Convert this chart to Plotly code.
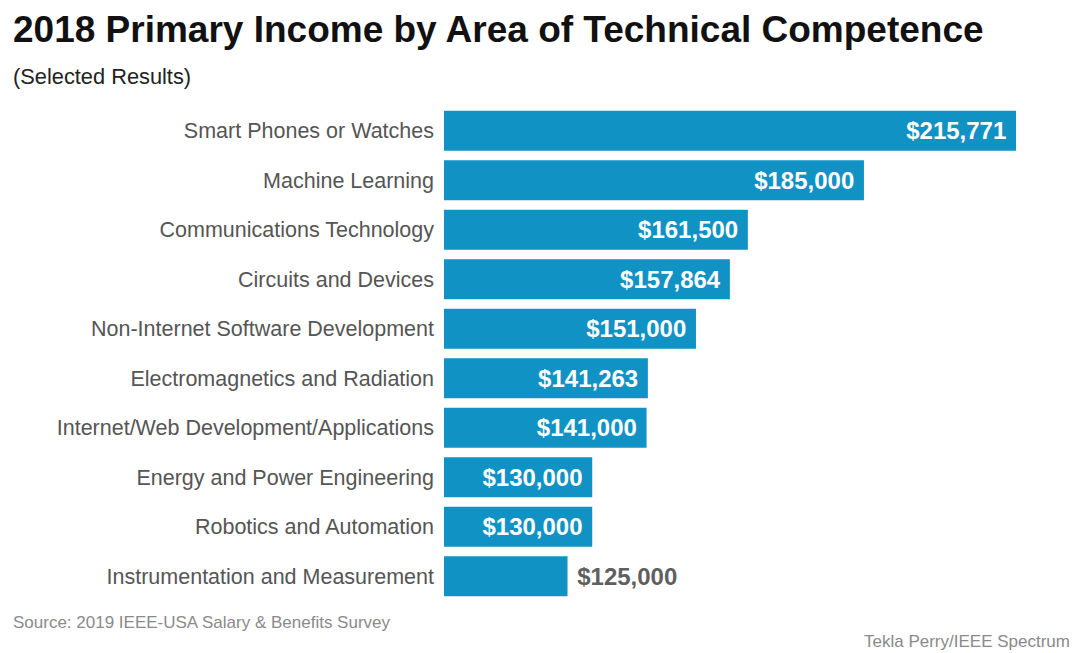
import plotly.graph_objects as go

categories = [
    "Smart Phones or Watches",
    "Machine Learning",
    "Communications Technology",
    "Circuits and Devices",
    "Non-Internet Software Development",
    "Electromagnetics and Radiation",
    "Internet/Web Development/Applications",
    "Energy and Power Engineering",
    "Robotics and Automation",
    "Instrumentation and Measurement",
]
values = [215771, 185000, 161500, 157864, 151000, 141263, 141000, 130000, 130000, 125000]

NB = "\u00a0"
labels = ["$" + format(v, ",") + NB for v in values[:-1]] + [NB + "$" + format(values[-1], ",")]

BAR = "#1192c4"
FONT = "Liberation Sans, Arial, sans-serif"

positions = ["inside"] * (len(values) - 1) + ["outside"]
text_colors = ["white"] * (len(values) - 1) + ["#5f5f5f"]

fig = go.Figure(go.Bar(
    y=categories,
    x=values,
    orientation="h",
    marker=dict(color=BAR, line=dict(width=0)),
    text=labels,
    textposition=positions,
    insidetextanchor="end",
    textfont=dict(family=FONT, size=24, color=text_colors, weight="bold"),
    insidetextfont=dict(family=FONT, size=24, color="white", weight="bold"),
    outsidetextfont=dict(family=FONT, size=24, color="#5f5f5f", weight="bold"),
    cliponaxis=False,
))

W, H = 1080, 653
l, r, t, b = 444, 53, 106, 52

fig.update_layout(
    width=W, height=H,
    margin=dict(l=l, r=r, t=t, b=b),
    paper_bgcolor="white", plot_bgcolor="white",
    bargap=0.19,
    showlegend=False,
    xaxis=dict(range=[100000, 218000], visible=False, fixedrange=True),
    yaxis=dict(autorange="reversed", showgrid=False, zeroline=False, showline=False,
               ticks="", ticklabelstandoff=9,
               tickfont=dict(family=FONT, size=21.5, color="#555555")),
    font=dict(family=FONT),
)

pw, ph = W - l - r, H - t - b
def px(xp):
    return (xp - l) / pw
def py(yp):
    return (H - b - yp) / ph

fig.update_layout(annotations=[
    dict(text="<b>2018 Primary Income by Area of Technical Competence</b>",
         xref="paper", yref="paper", x=px(11), y=py(29), xanchor="left", yanchor="middle",
         showarrow=False, font=dict(family=FONT, size=37, color="#111111")),
    dict(text="(Selected Results)", xref="paper", yref="paper", x=px(11), y=py(76),
         xanchor="left", yanchor="middle", showarrow=False,
         font=dict(family=FONT, size=21.8, color="#222222")),
    dict(text="Source: 2019 IEEE-USA Salary & Benefits Survey", xref="paper", yref="paper",
         x=px(11), y=py(622), xanchor="left", yanchor="middle", showarrow=False,
         font=dict(family=FONT, size=17, color="#8a8a8a")),
    dict(text="Tekla Perry/IEEE Spectrum", xref="paper", yref="paper",
         x=px(1072), y=py(641), xanchor="right", yanchor="middle", showarrow=False,
         font=dict(family=FONT, size=17, color="#8a8a8a")),
])

fig.write_html("out.html")
